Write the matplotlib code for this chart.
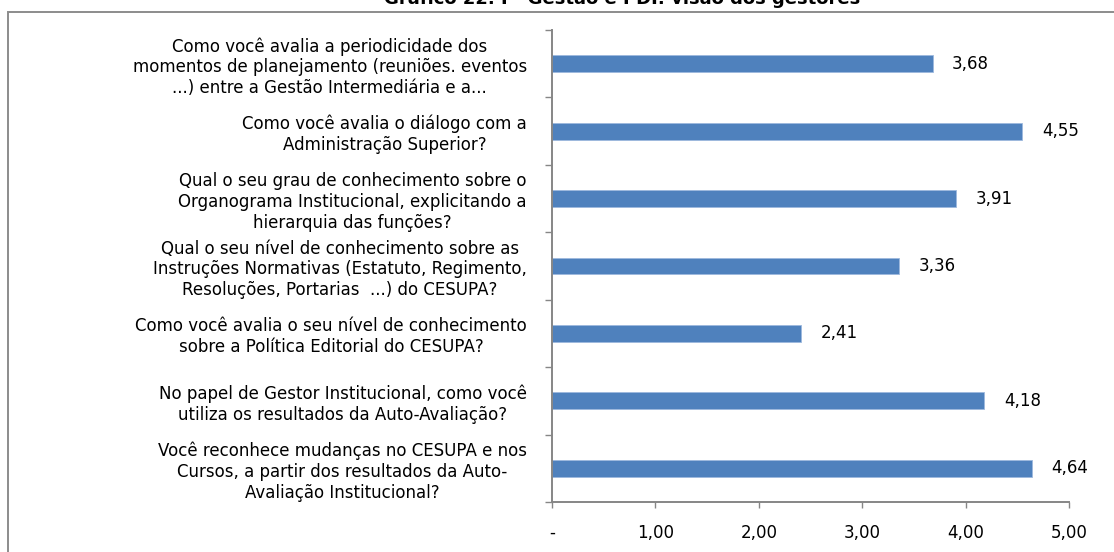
import matplotlib
matplotlib.use("Agg")
import matplotlib.pyplot as plt
from matplotlib.patches import Rectangle

# questions, top to bottom as shown
questions = [
    "Como você avalia a periodicidade dos\nmomentos de planejamento (reuniões. eventos\n...) entre a Gestão Intermediária e a...",
    "Como você avalia o diálogo com a\nAdministração Superior?",
    "Qual o seu grau de conhecimento sobre o\nOrganograma Institucional, explicitando a\nhierarquia das funções?",
    "Qual o seu nível de conhecimento sobre as\nInstruções Normativas (Estatuto, Regimento,\nResoluções, Portarias  ...) do CESUPA?",
    "Como você avalia o seu nível de conhecimento\nsobre a Política Editorial do CESUPA?",
    "No papel de Gestor Institucional, como você\nutiliza os resultados da Auto-Avaliação?",
    "Você reconhece mudanças no CESUPA e nos\nCursos, a partir dos resultados da Auto-\nAvaliação Institucional?",
]
scores = [3.68, 4.55, 3.91, 3.36, 2.41, 4.18, 4.64]
xticks = [0, 1, 2, 3, 4, 5]
xtick_labels = ["-", "1,00", "2,00", "3,00", "4,00", "5,00"]
title = "Gráfico 22. I - Gestão e PDI: visão dos gestores"

plt.rcParams['font.family'] = ['DejaVu Sans']
axis_gray = "#868686"
bar_blue = "#4F81BD"

fig = plt.figure(figsize=(11.14, 5.52), dpi=100)
ax = fig.add_axes([0.4955, 0.0906, 0.4641, 0.8551])

pos = list(range(len(questions)))
ax.barh(pos, scores, height=0.25, color=bar_blue, edgecolor="#9DB9DE", linewidth=0.6)
ax.set_ylim(len(questions) - 0.5, -0.5)
ax.set_xlim(0, 5)

for p, v in zip(pos, scores):
    ax.text(v + 0.19, p, f"{v:.2f}".replace(".", ","), va="center", ha="left", fontsize=12)

ax.set_xticks(xticks)
ax.set_xticklabels(xtick_labels, fontsize=12)
ax.set_yticks([p + 0.5 for p in pos[:-1]] + [-0.5, len(questions) - 0.5])
ax.set_yticks(pos, minor=True)
ax.set_yticklabels([])
ax.set_yticklabels(questions, minor=True, fontsize=12)
for lbl in ax.get_yticklabels(minor=True):
    lbl.set_multialignment("center")

ax.tick_params(axis="y", which="major", direction="out", length=5, width=1, color=axis_gray)
ax.tick_params(axis="y", which="minor", length=0, pad=18)
ax.tick_params(axis="x", direction="out", length=4, width=1, color=axis_gray, pad=12)

for s in ["top", "right"]:
    ax.spines[s].set_visible(False)
for s in ["left", "bottom"]:
    ax.spines[s].set_color(axis_gray)
    ax.spines[s].set_linewidth(1.4)

# outer chart frame (runs past the right and bottom edges)
fig.patches.append(Rectangle((8 / 1114, -0.1), 1.2, 1 - 12 / 552 + 0.1,
                             transform=fig.transFigure, fill=False,
                             edgecolor="#8C8C8C", linewidth=1.4))

fig.text(622 / 1114, 1 - 4 / 552, title, ha="center", va="baseline",
         fontsize=13, fontweight="bold")

fig.savefig("out.png", dpi=100)
